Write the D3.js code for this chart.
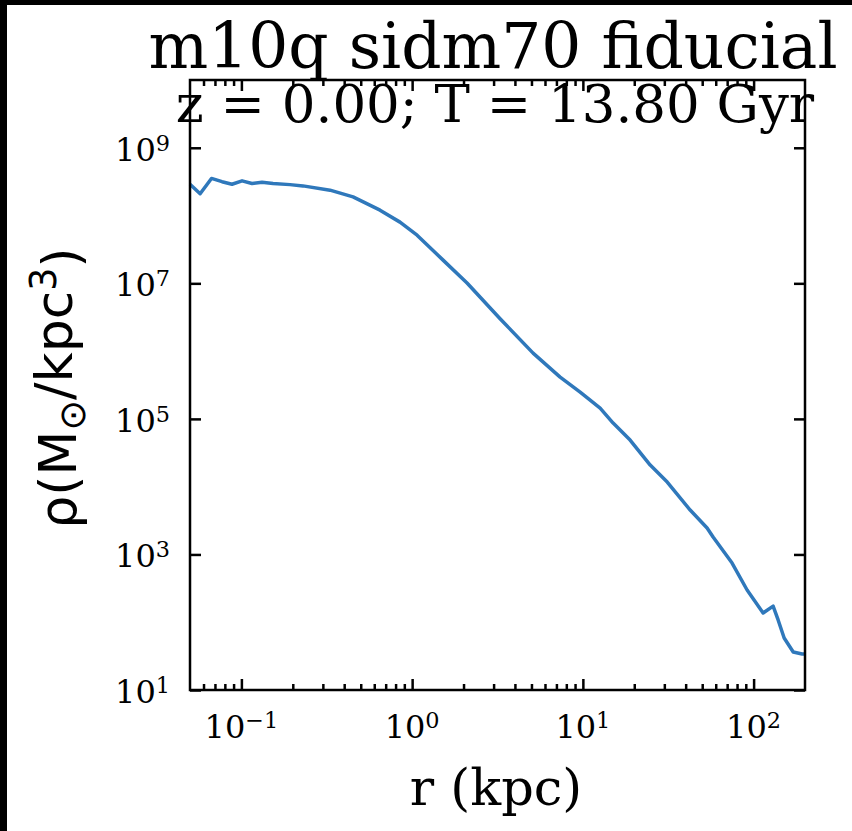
<!DOCTYPE html>
<html>
<head>
<meta charset="utf-8">
<script src="https://cdn.jsdelivr.net/npm/d3@7"></script>
<style>
  html, body { margin: 0; padding: 0; background: #fff; }
  svg { display: block; }
  .serif { font-family: "DejaVu Serif", serif; }
  .sans { font-family: "DejaVu Sans", sans-serif; }
</style>
</head>
<body>
<svg id="chart"></svg>
<script>
// density profile
var radii = [0.050, 0.0573, 0.0668, 0.0770, 0.0881, 0.1009, 0.1154, 0.1321, 0.1532, 0.1926,
  0.2296, 0.3304, 0.4507, 0.6486, 0.849, 1.069, 1.518, 2.097, 3.275, 5.11,
  7.36, 9.64, 12.62, 15.04, 18.91, 24.8, 31.2, 42.5, 53.4, 57.9,
  74.8, 91.6, 113.7, 130.1, 139.2, 151.0, 170.6, 192.4, 200];
var density = [2.90e8, 2.10e8, 3.53e8, 3.16e8, 2.90e8, 3.25e8, 2.97e8, 3.11e8, 2.97e8, 2.86e8,
  2.74e8, 2.37e8, 1.89e8, 1.20e8, 8.0e7, 5.14e7, 2.20e7, 1.01e7, 3.0e6, 9.35e5,
  4.14e5, 2.48e5, 1.44e5, 8.67e4, 4.87e4, 2.08e4, 1.17e4, 4.52e3, 2.45e3, 1.81e3,
  747, 299, 137, 173, 108, 58.5, 36.3, 34.0, 34.0];

var xMajor = [0.1, 1, 10, 100];
var xMajorExp = ["\u22121", "0", "1", "2"];
var yMajor = [1e1, 1e3, 1e5, 1e7, 1e9];
var yMajorExp = ["1", "3", "5", "7", "9"];

var titleText = "m10q sidm70 fiducial";
var subtitleText = "z = 0.00; T = 13.80 Gyr";

var width = 852;
var height = 831;
var plotL = 190, plotR = 805, plotT = 80, plotB = 690;

var svg = d3.select('#chart')
  .attr("width", width)
  .attr("height", height);

svg.append("rect").attr("width", width).attr("height", height).attr("fill", "#fff");

var x = d3.scaleLog().domain([0.05, 200]).range([plotL, plotR]);
var y = d3.scaleLog().domain([10, 1e10]).range([plotB, plotT]);

// minor x ticks 2..9 per decade
var xMinor = [];
[0.01, 0.1, 1, 10, 100].forEach(function (d) {
  for (var k = 2; k <= 9; k++) {
    var v = d * k;
    if (v > 0.05 && v < 200) xMinor.push(v);
  }
});

function tickAxis(gen, values, size, translate) {
  var g = svg.append("g")
    .attr("transform", translate)
    .call(gen.tickValues(values).tickSize(size).tickSizeOuter(0).tickFormat(""));
  g.select(".domain").remove();
  g.selectAll("line").attr("stroke", "#000").attr("stroke-width", 2.5);
  return g;
}

// inward ticks on all four sides
tickAxis(d3.axisBottom(x), xMajor, -11, "translate(0," + plotB + ")");
tickAxis(d3.axisBottom(x), xMinor, -6, "translate(0," + plotB + ")");
tickAxis(d3.axisTop(x), xMajor, -11, "translate(0," + plotT + ")");
tickAxis(d3.axisTop(x), xMinor, -6, "translate(0," + plotT + ")");
tickAxis(d3.axisLeft(y), yMajor, -11, "translate(" + plotL + ",0)");
tickAxis(d3.axisRight(y), yMajor, -11, "translate(" + plotR + ",0)");

// the profile
var line = d3.line()
  .x(function (d, i) { return x(radii[i]); })
  .y(function (d, i) { return y(density[i]); });

svg.append("path")
  .datum(density)
  .attr("d", line)
  .attr("fill", "none")
  .attr("stroke", "#2f78bb")
  .attr("stroke-width", 3.5)
  .attr("stroke-linejoin", "round");

// frame
svg.append("rect")
  .attr("x", plotL).attr("y", plotT)
  .attr("width", plotR - plotL).attr("height", plotB - plotT)
  .attr("fill", "none").attr("stroke", "#000").attr("stroke-width", 2.5);

// tick labels, 10 with superscript exponent
function powerLabel(sel, exp) {
  sel.append("tspan").text("10");
  sel.append("tspan").attr("dy", "-0.45em").attr("font-size", "0.7em").text(exp);
}

xMajor.forEach(function (v, i) {
  var t = svg.append("text").attr("class", "serif")
    .attr("x", x(v)).attr("y", plotB + 48)
    .attr("text-anchor", "middle").attr("font-size", 32).attr("fill", "#000");
  powerLabel(t, xMajorExp[i]);
});

yMajor.forEach(function (v, i) {
  var t = svg.append("text").attr("class", "serif")
    .attr("x", plotL - 20).attr("y", y(v) + 13)
    .attr("text-anchor", "end").attr("font-size", 32).attr("fill", "#000");
  powerLabel(t, yMajorExp[i]);
});

// titles
svg.append("text").attr("class", "serif")
  .attr("x", 493).attr("y", 68)
  .attr("text-anchor", "middle").attr("font-size", 63).attr("fill", "#000")
  .text(titleText);

svg.append("text").attr("class", "serif")
  .attr("x", 495).attr("y", 122)
  .attr("text-anchor", "middle").attr("font-size", 53).attr("fill", "#000")
  .text(subtitleText);

// axis labels
svg.append("text").attr("class", "serif")
  .attr("x", 496).attr("y", 805)
  .attr("text-anchor", "middle").attr("font-size", 51).attr("fill", "#000")
  .text("r (kpc)");

var yl = svg.append("text").attr("class", "sans")
  .attr("transform", "translate(76,388) rotate(-90)")
  .attr("text-anchor", "middle").attr("font-size", 52).attr("fill", "#000");
yl.append("tspan").text("\u03c1(M");
yl.append("tspan").attr("dy", "0.25em").attr("font-size", "0.7em").text("\u2299");
yl.append("tspan").attr("dy", "-0.25em").text("/kpc");
yl.append("tspan").attr("dy", "-0.45em").attr("font-size", "0.7em").text("3");
yl.append("tspan").attr("dy", "0.45em").text(")");

// dark strips along the left and top edge of the picture
svg.append("rect").attr("x", 0).attr("y", 0).attr("width", 7).attr("height", height).attr("fill", "#000");
svg.append("rect").attr("x", 0).attr("y", 0).attr("width", width).attr("height", 5).attr("fill", "#000");
</script>
</body>
</html>
